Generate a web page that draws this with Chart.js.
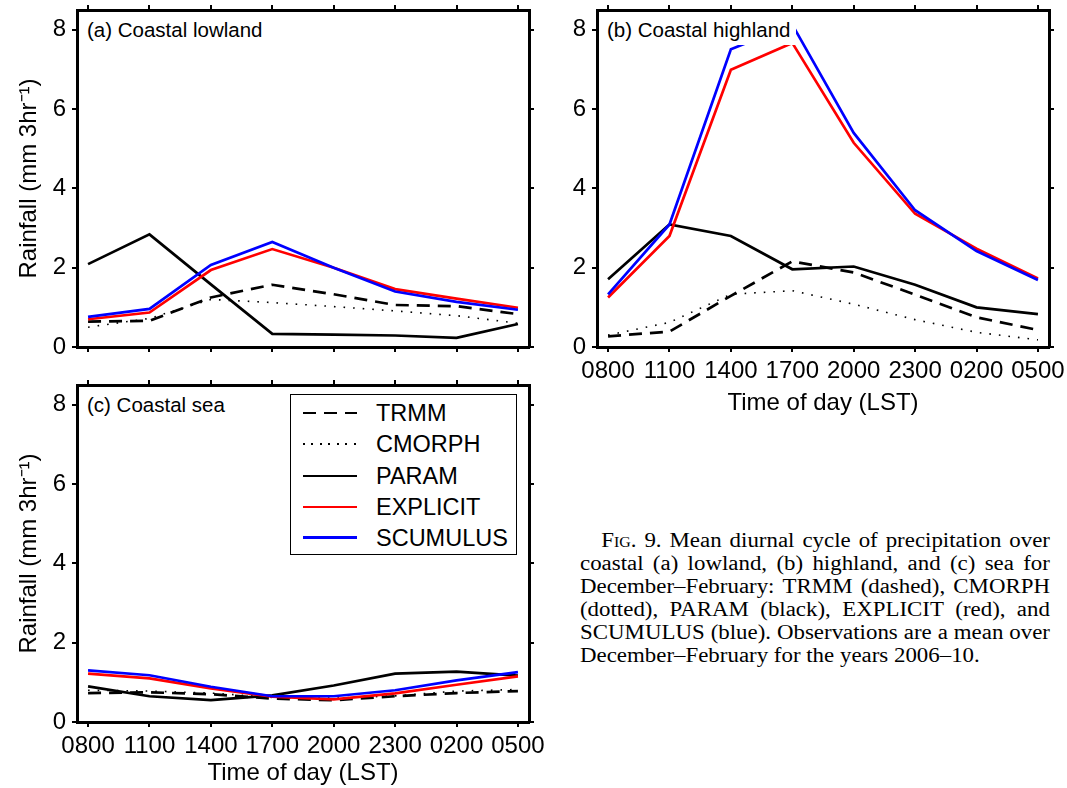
<!DOCTYPE html>
<html>
<head>
<meta charset="utf-8">
<script src="https://cdn.jsdelivr.net/npm/chart.js@4.4.1/dist/chart.umd.min.js"></script>
<style>
  html, body { margin: 0; padding: 0; background: #fff; }
  body { width: 1067px; height: 788px; position: relative; overflow: hidden; font-family: "Liberation Sans", Arial, Helvetica, sans-serif; color: #000; }
  canvas { position: absolute; }
  .plabel { position: absolute; background: #fff; font-size: 20.5px; line-height: 23px; padding: 4px 6px 4px 4px; white-space: nowrap; z-index: 5; }
  .legend { position: absolute; left: 290px; top: 394px; width: 227px; height: 161px; box-sizing: border-box; border: 1px solid #000; background: #fff; z-index: 5; }
  .lrow { position: absolute; left: 0; width: 100%; height: 28px; }
  .lrow .txt { position: absolute; left: 85px; top: 0; line-height: 28px; font-size: 23.5px; white-space: nowrap; }
  .lrow .smp { position: absolute; left: 12px; width: 54px; }
  .caption { position: absolute; left: 580px; top: 529px; width: 443.4px; transform: scaleX(1.06); transform-origin: 0 0; font-family: "Liberation Serif", "Times New Roman", serif; font-size: 21.6px; line-height: 23px; }
  .caption .ln { display: flex; justify-content: space-between; white-space: nowrap; height: 23px; }
  .caption .last { white-space: nowrap; height: 23px; }
  .sc { font-variant: small-caps; }
</style>
</head>
<body>
<canvas id="ca" width="545" height="360" style="left:0px;top:0px"></canvas>
<canvas id="cb" width="527" height="420" style="left:540px;top:0px"></canvas>
<canvas id="cc" width="545" height="413" style="left:0px;top:375px"></canvas>

<div class="plabel" style="left:83px;top:14px">(a) Coastal lowland</div>
<div class="plabel" style="left:603px;top:14px">(b) Coastal highland</div>
<div class="plabel" style="left:83px;top:389px">(c) Coastal sea</div>

<div class="legend" id="legend"></div>

<div class="caption">
  <div class="ln" style="padding-left:20px"><span>F<span class="sc">ig</span>.</span> <span>9.</span> <span>Mean</span> <span>diurnal</span> <span>cycle</span> <span>of</span> <span>precipitation</span> <span>over</span></div>
  <div class="ln"><span>coastal</span> <span>(a)</span> <span>lowland,</span> <span>(b)</span> <span>highland,</span> <span>and</span> <span>(c)</span> <span>sea</span> <span>for</span></div>
  <div class="ln"><span>December–February:</span> <span>TRMM</span> <span>(dashed),</span> <span>CMORPH</span></div>
  <div class="ln"><span>(dotted),</span> <span>PARAM</span> <span>(black),</span> <span>EXPLICIT</span> <span>(red),</span> <span>and</span></div>
  <div class="ln"><span>SCUMULUS</span> <span>(blue).</span> <span>Observations</span> <span>are</span> <span>a</span> <span>mean</span> <span>over</span></div>
  <div class="last">December–February for the years 2006–10.</div>
</div>

<script>
// ---------------- data ----------------
const times = ['0800', '1100', '1400', '1700', '2000', '2300', '0200', '0500'];
const seriesNames = ['TRMM', 'CMORPH', 'PARAM', 'EXPLICIT', 'SCUMULUS'];
const yTickValues = [0, 2, 4, 6, 8];

// (a) Coastal lowland
const lowlandTRMM     = [0.64, 0.66, 1.25, 1.57, 1.33, 1.06, 1.03, 0.83];
const lowlandCMORPH   = [0.50, 0.72, 1.20, 1.12, 1.02, 0.91, 0.79, 0.60];
const lowlandPARAM    = [2.09, 2.84, 1.58, 0.33, 0.31, 0.29, 0.23, 0.58];
const lowlandEXPLICIT = [0.70, 0.87, 1.94, 2.47, 2.00, 1.46, 1.22, 0.99];
const lowlandSCUMULUS = [0.76, 0.96, 2.07, 2.65, 2.00, 1.40, 1.14, 0.94];

// (b) Coastal highland
const highlandTRMM     = [0.27, 0.39, 1.29, 2.16, 1.88, 1.32, 0.75, 0.43];
const highlandCMORPH   = [0.30, 0.62, 1.33, 1.42, 1.08, 0.69, 0.37, 0.18];
const highlandPARAM    = [1.71, 3.09, 2.80, 1.96, 2.03, 1.57, 1.00, 0.83];
const highlandEXPLICIT = [1.25, 2.80, 6.99, 7.67, 5.15, 3.36, 2.48, 1.73];
const highlandSCUMULUS = [1.33, 3.09, 7.51, 8.13, 5.40, 3.45, 2.42, 1.69];

// (c) Coastal sea
const seaTRMM     = [0.73, 0.75, 0.70, 0.59, 0.55, 0.65, 0.73, 0.78];
const seaCMORPH   = [0.80, 0.78, 0.73, 0.62, 0.60, 0.66, 0.78, 0.82];
const seaPARAM    = [0.90, 0.65, 0.55, 0.67, 0.92, 1.22, 1.27, 1.17];
const seaEXPLICIT = [1.22, 1.10, 0.85, 0.64, 0.57, 0.72, 0.94, 1.15];
const seaSCUMULUS = [1.30, 1.18, 0.89, 0.65, 0.65, 0.80, 1.05, 1.26];

// ---------------- styles ----------------
const FONT = '"Liberation Sans", Arial, Helvetica, sans-serif';
Chart.defaults.font.family = FONT;
Chart.defaults.color = '#000';

const lineStyles = {
  TRMM:     { borderColor: '#000000', borderWidth: 2.7, borderDash: [13, 8] },
  CMORPH:   { borderColor: '#000000', borderWidth: 1.6, borderDash: [1.6, 8] },
  PARAM:    { borderColor: '#000000', borderWidth: 2.7 },
  EXPLICIT: { borderColor: '#ff0000', borderWidth: 2.7 },
  SCUMULUS: { borderColor: '#0000ff', borderWidth: 2.7 }
};

const X_MIN = -0.18, X_MAX = 7.18, Y_MIN = 0, Y_MAX = 8.5;
const TICK_FONT = 24;

function fixSize(dim, size) {
  return s => {
    s[dim] = size;
    s.paddingLeft = 0; s.paddingRight = 0; s.paddingTop = 0; s.paddingBottom = 0;
  };
}

function panel(canvasId, seriesArrays, cfg) {
  const datasets = seriesNames.map((name, k) => Object.assign({
    label: name,
    data: seriesArrays[k].map((v, i) => ({ x: i, y: v })),
    order: seriesNames.length - k,
    pointRadius: 0,
    pointHoverRadius: 0,
    tension: 0,
    fill: false
  }, lineStyles[name]));

  const grid = { display: true, drawOnChartArea: false, drawTicks: true, tickLength: 5, lineWidth: 2, color: '#000' };
  const border = { display: true, width: 3, color: '#000' };
  const xTicks = s => { s.ticks = times.map((t, i) => ({ value: i })); };
  const yTicks = s => { s.ticks = yTickValues.map(v => ({ value: v })); };

  new Chart(document.getElementById(canvasId), {
    type: 'line',
    data: { datasets },
    options: {
      responsive: false,
      animation: false,
      events: [],
      layout: { padding: 0 },
      plugins: { legend: { display: false }, tooltip: { enabled: false }, title: { display: false } },
      scales: {
        x: {
          type: 'linear', position: 'bottom', min: X_MIN, max: X_MAX,
          afterBuildTicks: xTicks,
          ticks: { autoSkip: false, maxRotation: 0, minRotation: 0, padding: 5, font: { size: TICK_FONT }, color: '#000',
                   callback: v => cfg.xLabels ? times[Math.round(v)] : '' },
          grid, border,
          title: { display: cfg.xLabels, text: 'Time of day (LST)', font: { size: TICK_FONT }, color: '#000', padding: { top: 0, bottom: cfg.xTitlePad || 0 } },
          afterFit: fixSize('height', cfg.xH)
        },
        x2: {
          type: 'linear', position: 'top', min: X_MIN, max: X_MAX,
          afterBuildTicks: xTicks,
          ticks: { autoSkip: false, maxRotation: 0, callback: () => '' },
          grid, border,
          afterFit: fixSize('height', cfg.topH)
        },
        y: {
          type: 'linear', position: 'left', min: Y_MIN, max: Y_MAX,
          afterBuildTicks: yTicks,
          ticks: { padding: 6, font: { size: TICK_FONT }, color: '#000', callback: v => String(v) },
          grid, border,
          title: { display: cfg.yTitle, text: 'Rainfall (mm 3hr⁻¹)', font: { size: TICK_FONT }, color: '#000', padding: { top: 15, bottom: 0 } },
          afterFit: fixSize('width', cfg.yW)
        },
        y2: {
          type: 'linear', position: 'right', min: Y_MIN, max: Y_MAX,
          afterBuildTicks: yTicks,
          ticks: { callback: () => '' },
          grid, border,
          afterFit: fixSize('width', cfg.y2W)
        }
      }
    }
  });
}

panel('ca', [lowlandTRMM, lowlandCMORPH, lowlandPARAM, lowlandEXPLICIT, lowlandSCUMULUS],
      { xLabels: false, yTitle: true, xH: 13, topH: 10, yW: 77, y2W: 16 });
panel('cb', [highlandTRMM, highlandCMORPH, highlandPARAM, highlandEXPLICIT, highlandSCUMULUS],
      { xLabels: true, yTitle: false, xH: 73, topH: 10, yW: 57, y2W: 18, xTitlePad: 2.6 });
panel('cc', [seaTRMM, seaCMORPH, seaPARAM, seaEXPLICIT, seaSCUMULUS],
      { xLabels: true, yTitle: true, xH: 66, topH: 10, yW: 77, y2W: 16, xTitlePad: 0.6 });

// ---------------- legend (panel c) ----------------
const legendRowCenters = [18, 49, 81, 112, 142.5];
const legendSamples = {
  TRMM:     'height:2.7px;background:repeating-linear-gradient(to right,#000 0 13px,transparent 13px 21px);',
  CMORPH:   'height:1.6px;background:repeating-linear-gradient(to right,#000 0 1.6px,transparent 1.6px 8.5px);',
  PARAM:    'height:2.7px;background:#000;',
  EXPLICIT: 'height:2.7px;background:#ff0000;',
  SCUMULUS: 'height:2.7px;background:#0000ff;'
};
const legendEl = document.getElementById('legend');
seriesNames.forEach((name, k) => {
  const row = document.createElement('div');
  row.className = 'lrow';
  row.style.top = (legendRowCenters[k] - 14) + 'px';
  const smp = document.createElement('div');
  smp.className = 'smp';
  smp.style.cssText = legendSamples[name] + 'top:' + (14 - (name === 'CMORPH' ? 0.8 : 1.35)) + 'px;';
  const txt = document.createElement('div');
  txt.className = 'txt';
  txt.textContent = name;
  row.appendChild(smp);
  row.appendChild(txt);
  legendEl.appendChild(row);
});
</script>
</body>
</html>
